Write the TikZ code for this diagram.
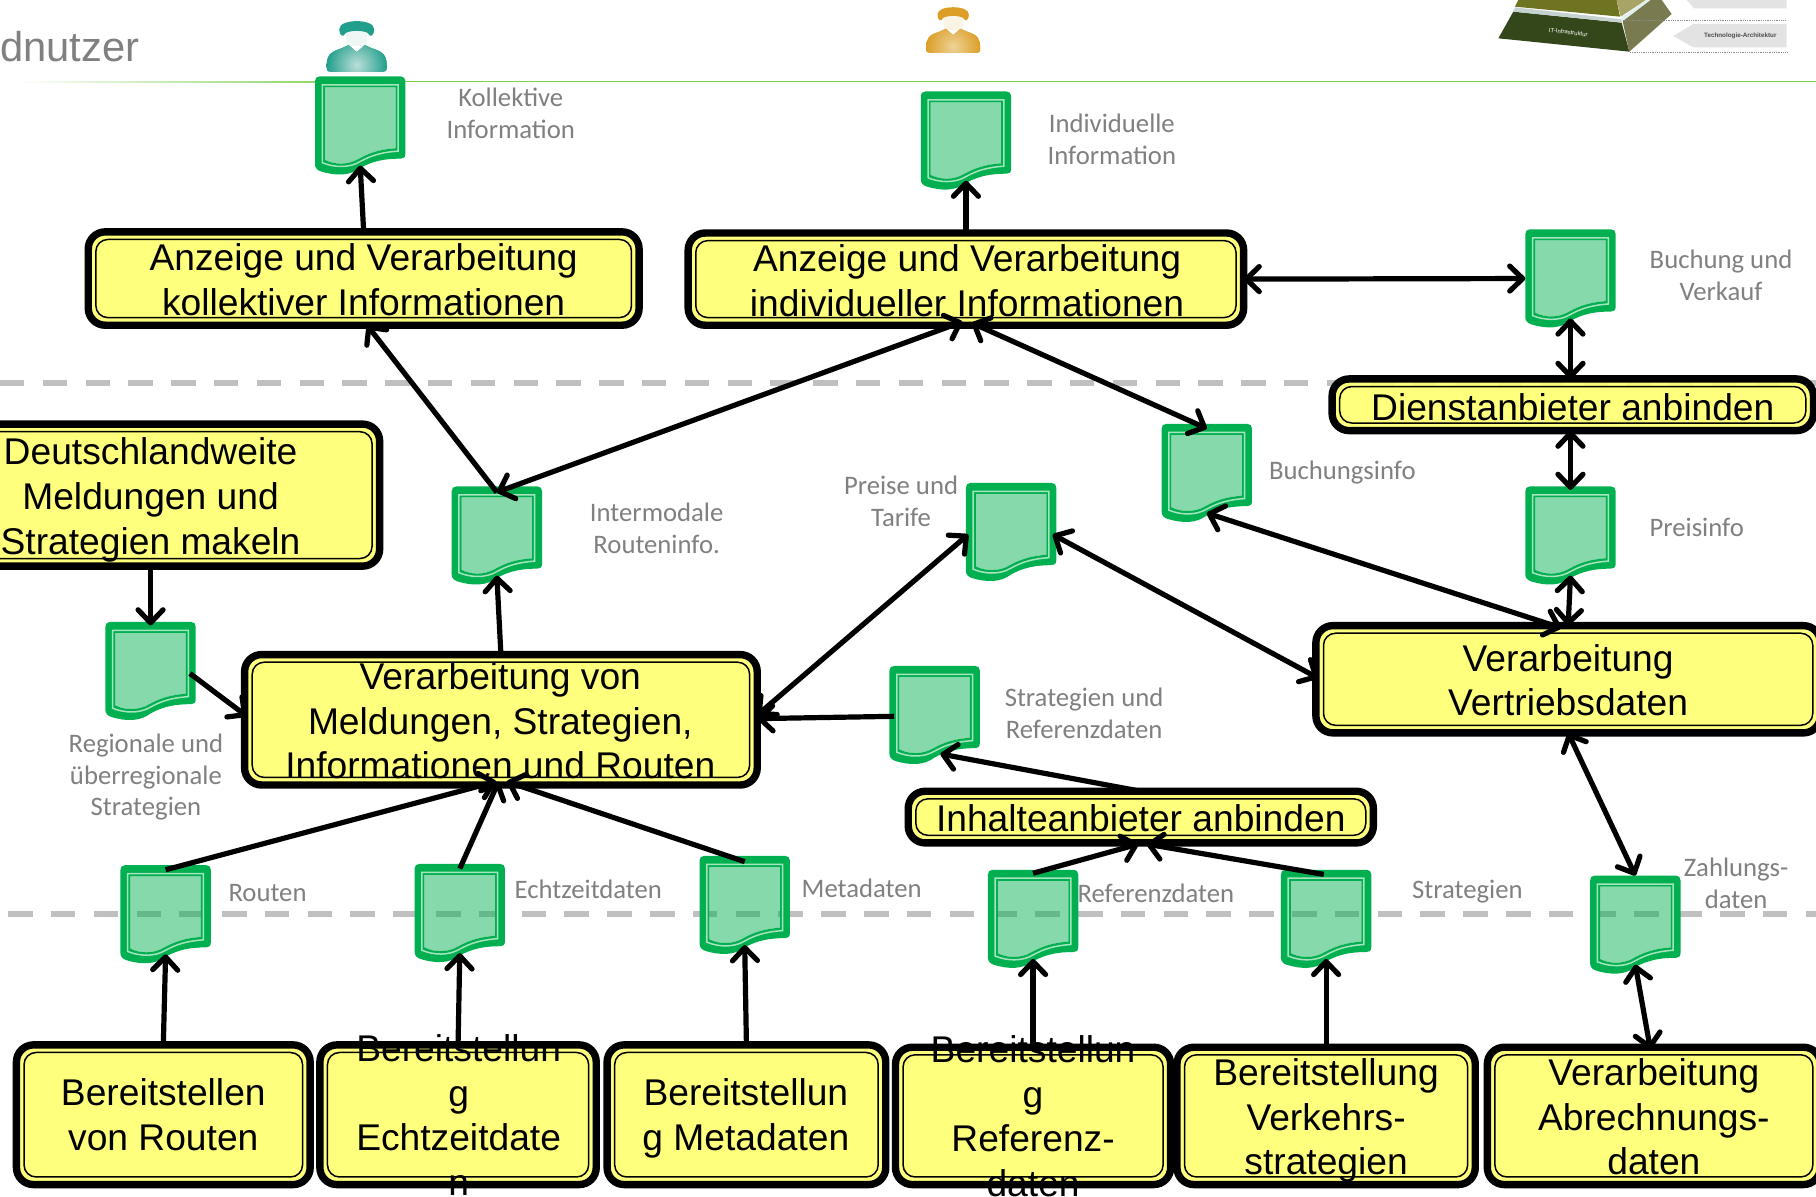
\documentclass[tikz,border=0pt]{standalone}
\usepackage{fontspec}
\setmainfont{Liberation Sans}
\newfontfamily\labelfont{Carlito}
\usetikzlibrary{arrows.meta,calc}
\definecolor{docgreen}{HTML}{00B050}
\definecolor{docpale}{HTML}{A6E3BE}
\definecolor{boxyellow}{HTML}{FFFF70}
\definecolor{rulegreen}{HTML}{7CCF4E}
\definecolor{dashgrey}{HTML}{C0C0C0}
\definecolor{labelgrey}{HTML}{808080}
\definecolor{userteal}{HTML}{229E8C}
\definecolor{userteallight}{HTML}{BBDFD8}
\definecolor{userorange}{HTML}{DC9E27}
\definecolor{userorangelight}{HTML}{EDD398}
\definecolor{pyrdark}{HTML}{34471A}
\definecolor{pyrolive}{HTML}{6F7422}
\definecolor{pyrtan}{HTML}{A8A468}
\definecolor{pyrside}{HTML}{7A7A50}
\definecolor{pyrband}{HTML}{C5D3D0}
\definecolor{pyrglow}{HTML}{E0F0EE}
\tikzset{
  procbox/.style={draw=black,line width=7.4pt,fill=boxyellow,fill opacity=.9,inner sep=0pt,outer sep=0pt,
    rounded corners=17pt,
    path picture={\draw[black,line width=1.5pt,rounded corners=12pt]
      ([shift={(7.6pt,-7.6pt)}]path picture bounding box.north west) rectangle
      ([shift={(-7.6pt,7.6pt)}]path picture bounding box.south east);}},
  proctext/.style={align=center,inner sep=0pt,font=\fontsize{37.2}{44.7}\selectfont,
    execute at begin node=\strut,execute at end node=\strut},
  docbox/.style={inner sep=0pt,outer sep=0pt},
  infolabel/.style={align=center,inner sep=0pt,text=labelgrey,font=\labelfont\fontsize{26.7}{31.8}\selectfont},
  conn/.style={line width=5.2pt,black,>={Straight Barb[length=13pt,width=25pt,round]}},
  levelrule/.style={dashgrey,line width=6pt,dash pattern=on 24.5pt off 18.3pt},
}
% process box given by its outer corners: name, x1, y1, x2, y2
\newcommand{\procframe}[5]{%
  \pgfmathsetmacro{\pfw}{(#4-#2)*1.1582}%
  \pgfmathsetmacro{\pfh}{(#5-#3)*1.1582}%
  \pgfmathsetmacro{\pfx}{(#2+#4)/2}%
  \pgfmathsetmacro{\pfy}{(#3+#5)/2}%
  \node[procbox,minimum width=\pfw pt-7.4pt,minimum height=\pfh pt-7.4pt] (#1) at (\pfx,\pfy) {};%
}
% information object with a wavy lower edge: name, left, top
\newcommand{\infodoc}[3]{%
  \pgfmathsetmacro{\pfx}{#2+39}%
  \pgfmathsetmacro{\pfy}{#3+42.5}%
  \pgfmathsetmacro{\pfn}{#3+77}%
  \node[docbox,minimum width=90.34pt,minimum height=98.45pt] (#1) at (\pfx,\pfy) {};%
  \coordinate (#1-n) at (\pfx,\pfn);%
  \begin{scope}[shift={(#2,#3)}]
    \fill[docgreen,even odd rule]
      (0,4) .. controls (0,1.5) and (1.5,0) .. (4,0) -- (74,0) .. controls (76.5,0) and (78,1.5) .. (78,4)
      -- (78,67) .. controls (78,70) and (76,71) .. (74,71) .. controls (60,71) and (50,73) .. (39,79)
      .. controls (30,86) and (18,86) .. (5,82) .. controls (2,81) and (0,79) .. (0,76) -- cycle
      (8.5,9.5) -- (69.5,9.5) -- (69.5,62) .. controls (56,63) and (47,66) .. (38,71)
      .. controls (28,77) and (16,76) .. (8.5,72) -- cycle;
    \fill[docgreen,fill opacity=.48]
      (8.5,9.5) -- (69.5,9.5) -- (69.5,62) .. controls (56,63) and (47,66) .. (38,71)
      .. controls (28,77) and (16,76) .. (8.5,72) -- cycle;
    \draw[docpale,line width=1.5pt]
      (6.3,7.3) -- (71.7,7.3) -- (71.7,64.5) .. controls (57,65.5) and (48,68.5) .. (39,73.5)
      .. controls (29,79.5) and (16,78.5) .. (6.3,74.5) -- cycle;
  \end{scope}%
}
% stylised user figure: centre x, top y, scale, colour, highlight colour
\newcommand{\userfigure}[5]{%
  \begin{scope}[shift={(#1,#2)},scale=#3]
    \fill[#5!25!white] (-9,10) rectangle (9,22);
    \fill[#4] (-15,7) .. controls (-15,-2) and (15,-2) .. (15,7) .. controls (15,14) and (11,14) .. (10,11)
      .. controls (8,8) and (-8,8) .. (-10,11) .. controls (-11,14) and (-15,14) .. (-15,7) -- cycle;
    \begin{scope}
      \clip (-26,40) .. controls (-26,31) and (-24,27) .. (-14,24) -- (-7,21) -- (0,27) -- (7,21) -- (14,24)
        .. controls (24,27) and (26,31) .. (26,40) .. controls (26,44) and (24,44) .. (20,44)
        -- (-20,44) .. controls (-24,44) and (-26,44) .. (-26,40) -- cycle;
      \fill[#4] (-30,15) rectangle (30,50);
      \shade[inner color=#5,outer color=#4] (0,38) circle (26);
    \end{scope}
  \end{scope}%
}
\begin{document}
\begin{tikzpicture}[x=1.1582pt,y=-1.1582pt]
\clip (0,0) rectangle (1568,1033);
\fill[white] (0,0) rectangle (1568,1033);

% level separators and header rule
\coordinate (ruleL1) at (0,331);
\coordinate (ruleR1) at (1568,331);
\coordinate (ruleL2) at (7,789);
\coordinate (ruleR2) at (1568,789);
\draw[levelrule] (ruleL1) -- (ruleR1);
\draw[levelrule] (ruleL2) -- (ruleR2);
\shade[left color=white,right color=rulegreen] (15,70) rectangle (320,71.2);
\fill[rulegreen] (320,70) rectangle (1568,71.2);

% page header
\node[anchor=west,inner sep=0pt,text=labelgrey,font=\fontsize{41.7}{48}\selectfont] (hdr) at (0,40) {dnutzer};
\userfigure{308}{18}{1}{userteal}{userteallight}
\userfigure{823}{6}{.9}{userorange}{userorangelight}

% architecture pyramid emblem
\begin{scope}[shift={(1208.8,0)},scale=.2878]
  \fill[pyrdark] (340,35) -- (665,68) -- (688,155) -- (295,115) -- cycle;
  \fill[pyrolive] (355,0) -- (650,0) -- (660,50) -- (345,20) -- cycle;
  \fill[pyrband] (345,22) -- (665,58) -- (665,68) -- (340,35) -- cycle;
  \fill[pyrtan] (650,0) -- (738,0) -- (662,50) -- cycle;
  \fill[pyrglow] (660,55) -- (738,0) -- (750,0) -- (668,63) -- cycle;
  \fill[pyrside] (668,64) -- (752,0) -- (785,0) -- (815,42) -- (688,155) -- cycle;
  \draw[black!45,densely dotted,line width=.8pt] (668,60) -- (1155,60);
  \draw[black!45,densely dotted,line width=.8pt] (690,156) -- (1160,156);
  \fill[black!11] (860,0) -- (1160,0) -- (1160,25) -- (882,25) -- cycle;
  \fill[black!11] (820,108) -- (880,72) -- (1160,72) -- (1160,142) -- (880,142) -- cycle;
  \node[inner sep=0pt,text=white,rotate=-7,font=\fontsize{6}{7}\selectfont] (pyrIT) at (505,97) {IT-Infrastruktur};
  \node[inner sep=0pt,text=black!70,font=\bfseries\fontsize{6.3}{7}\selectfont] (pyrTA) at (1021,107) {Technologie-Architektur};
\end{scope}

% process boxes
\procframe{ak}{73}{197}{555}{284}
\node[proctext] (akT) at (314,247.3) {Anzeige und Verarbeitung\\kollektiver Informationen};
\procframe{ai}{591}{198}{1077}{284}
\node[proctext] (aiT) at (835,248) {Anzeige und Verarbeitung\\individueller Informationen};
\procframe{di}{1147}{324}{1569}{375}
\node[proctext] (diT) at (1358,355) {Dienstanbieter anbinden};
\procframe{dl}{-71}{363}{331}{492}
\node[proctext] (dlT) at (130,434) {Deutschlandweite\\Meldungen und\\Strategien makeln};
\procframe{vb}{208}{562}{657}{681}
\node[proctext] (vbT) at (432,628) {Verarbeitung von\\Meldungen, Strategien,\\Informationen und Routen};
\procframe{vt}{1133}{537}{1575}{636}
\node[proctext] (vtT) at (1354,593) {Verarbeitung\\Vertriebsdaten};
\procframe{ih}{781}{680}{1189}{731}
\node[proctext] (ihT) at (985,710) {Inhalteanbieter anbinden};
\procframe{br}{11}{899}{271}{1026}
\node[proctext] (brT) at (141,968) {Bereitstellen\\von Routen};
\procframe{be}{273}{899}{518}{1026}
\node[proctext] (beT) at (396,968.5) {Bereitstellun\\g\\Echtzeitdate\\n};
\procframe{bm}{521}{899}{768}{1026}
\node[proctext] (bmT) at (644,968) {Bereitstellun\\g Metadaten};
\procframe{bf}{770}{901}{1014}{1026}
\node[proctext] (bfT) at (892,969.5) {Bereitstellun\\g\\Referenz-\\daten};
\procframe{bv}{1013}{901}{1277}{1026}
\node[proctext] (bvT) at (1145,970) {Bereitstellung\\Verkehrs-\\strategien};
\procframe{ba}{1281}{901}{1575}{1026}
\node[proctext] (baT) at (1428,970) {Verarbeitung\\Abrechnungs-\\daten};

% information objects
\infodoc{dk}{272}{66}
\infodoc{dn}{795}{79}
\infodoc{db}{1317}{198}
\infodoc{dq}{1003}{366}
\infodoc{dt}{390}{420}
\infodoc{dp}{834}{417}
\infodoc{dw}{1317}{420}
\infodoc{dr}{91}{537}
\infodoc{ds}{768}{575}
\infodoc{dro}{104}{747}
\infodoc{dec}{358}{746}
\infodoc{dme}{604}{739}
\infodoc{dre}{853}{751}
\infodoc{dvs}{1106}{751}
\infodoc{dza}{1373}{756}

% information flows
\draw[conn,->] (ak.north) -- (dk-n);
\draw[conn,->] (ai.north) -- (dn-n);
\draw[conn,<->] (ai.east) -- (db.west);
\draw[conn,<->] (db-n) -- ([shift={(-2,0)}]di.north);
\draw[conn,<->] ([shift={(-2,0)}]di.south) -- ([shift={(0,3)}]dw.north);
\draw[conn,<->] (dw-n) -- (vt.north);
\draw[conn,->] ([shift={(0,5)}]dt.north) -- ([shift={(3,0)}]ak.south);
\draw[conn,<->] ([shift={(0,5)}]dt.north) -- ([shift={(-3,-3)}]ai.south);
\draw[conn,<->] ([shift={(5,-2)}]ai.south) -- ([shift={(0,4)}]dq.north);
\draw[conn,<->] (dq-n) -- ([shift={(-6,2)}]vt.north);
\draw[conn,<->] ([shift={(-3,2)}]dp.east) -- ([shift={(2,-1)}]vt.west);
\draw[conn,<->] ([shift={(2,2)}]dp.west) -- ([shift={(0,-4)}]vb.east);
\draw[conn,->] ([shift={(4,1)}]ds.west) -- ([shift={(0,-1)}]vb.east);
\draw[conn,->] (ih.north) -- ([shift={(5,-1)}]ds-n);
\draw[conn,->] (vb.north) -- (dt-n);
\draw[conn,->] (dl.south) -- ([shift={(0,3)}]dr.north);
\draw[conn,->] ([shift={(-5,2)}]dr.east) -- ([shift={(2,-3)}]vb.west);
\draw[conn,->] ([shift={(0,4)}]dro.north) -- ([shift={(-4,-3)}]vb.south);
\draw[conn,->] ([shift={(0,4)}]dec.north) -- ([shift={(-2,-3)}]vb.south);
\draw[conn,->] ([shift={(0,5)}]dme.north) -- ([shift={(5,-3)}]vb.south);
\draw[conn,->] (br.north) -- (dro-n);
\draw[conn,->] (be.north) -- (dec-n);
\draw[conn,->] (bm.north) -- (dme-n);
\draw[conn,->] (bf.north) -- (dre-n);
\draw[conn,->] (bv.north) -- (dvs-n);
\draw[conn,<->] ([shift={(-3,2)}]ba.north) -- (dza-n);
\draw[conn,->] ([shift={(0,3)}]dre.north) -- ([shift={(-2,1)}]ih.south);
\draw[conn,->] ([shift={(-2,4)}]dvs.north) -- ([shift={(5,1)}]ih.south);
\draw[conn,<->] (vt.south) -- (dza.north);

% object captions
\node[infolabel] (lk) at (441,98) {Kollektive\\Information};
\node[infolabel] (ln) at (960,120) {Individuelle\\Information};
\node[infolabel] (lb) at (1486,238) {Buchung und\\Verkauf};
\node[infolabel] (lq) at (1159,408) {Buchungsinfo};
\node[infolabel] (lt) at (567,456.5) {Intermodale\\Routeninfo.};
\node[infolabel] (lp) at (778,433) {Preise und\\Tarife};
\node[infolabel] (lw) at (1465,455.5) {Preisinfo};
\node[infolabel] (ls) at (936,616) {Strategien und\\Referenzdaten};
\node[infolabel] (lr) at (126,671) {Regionale und\\überregionale\\Strategien};
\node[infolabel] (lro) at (231,771) {Routen};
\node[infolabel] (lec) at (508,768) {Echtzeitdaten};
\node[infolabel] (lme) at (744,767) {Metadaten};
\node[infolabel] (lre) at (998,771) {Referenzdaten};
\node[infolabel] (lvs) at (1267,769.5) {Strategien};
\node[infolabel] (lza) at (1499,763) {Zahlungs-\\daten};
\end{tikzpicture}
\end{document}
